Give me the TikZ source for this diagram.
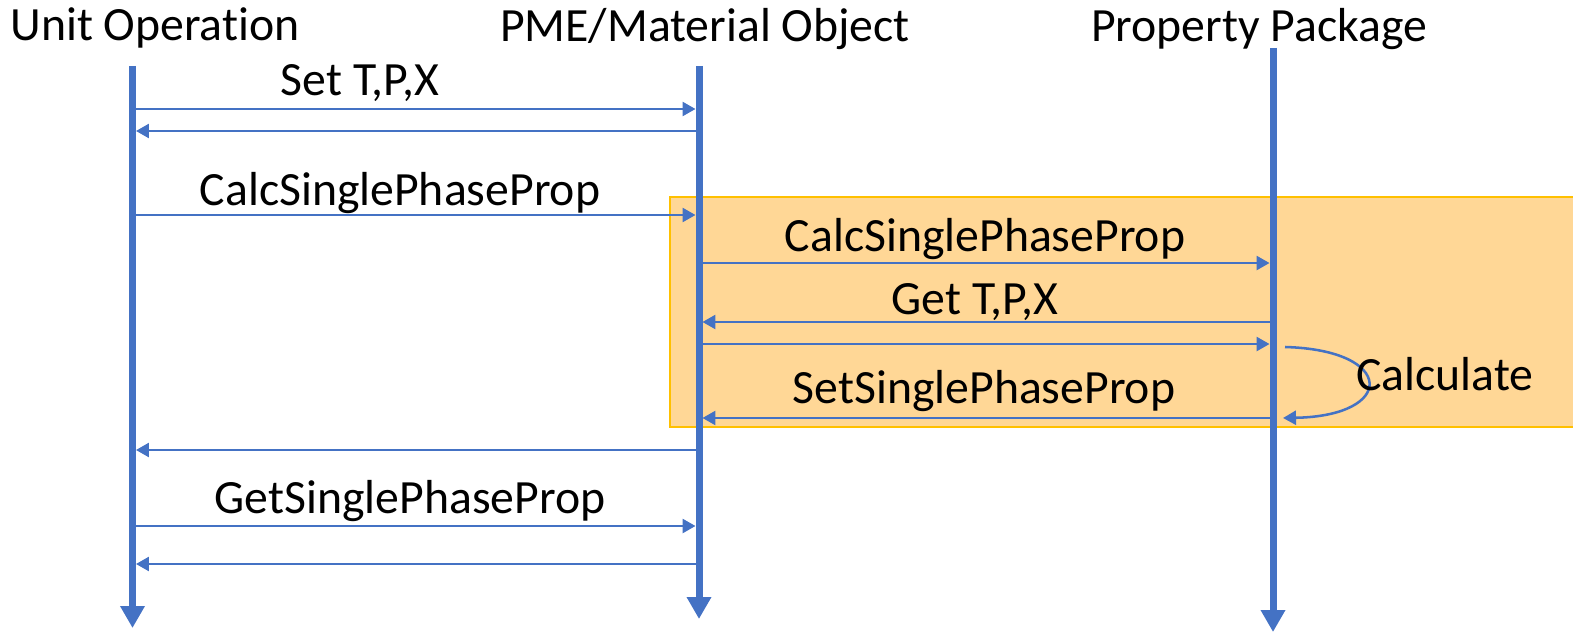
\documentclass[tikz,border=0pt]{standalone}
\usepackage{fontspec}
\setmainfont{Carlito}[Ligatures={NoCommon,NoContextual,NoRare}]
\usetikzlibrary{arrows.meta}
\definecolor{lifeblue}{HTML}{4472C4}
\definecolor{calcfill}{HTML}{FFD796}
\definecolor{calcedge}{HTML}{FFC000}
\begin{document}
\begin{tikzpicture}[x=.75pt,y=-.75pt,line width=1.9pt,
  every node/.style={font=\fontsize{35.8}{40}\selectfont,inner sep=0pt,anchor=base},
  lifeline/.style={draw=lifeblue,line width=5.25pt,-{Triangle[length=16.5pt,width=17.5pt]}},
  msg/.style={draw=lifeblue,-{Triangle[length=9.75pt,width=10.5pt]},shorten >=2.6pt}]
  \path[use as bounding box] (0,0) rectangle (1573,635);
  % shaded part handled by the property package
  \fill[calcfill,draw=calcedge,line width=.9pt] (670,197) rectangle (1580,427);
  \coordinate (uoT) at (132.5,66);
  \coordinate (uoB) at (132.5,628);
  \coordinate (pmeT) at (699,66);
  \coordinate (pmeB) at (699,619);
  \coordinate (ppT) at (1273,48);
  \coordinate (ppB) at (1273,632);
  \draw[lifeline] (uoT)--(uoB);
  \draw[lifeline] (pmeT)--(pmeB);
  \draw[lifeline] (ppT)--(ppB);
  \node (uo) at (155,41) {Unit Operat\kern0pt ion};
  \node (pme) at (705,42) {PME/Material Object};
  \node (pp) at (1259,42) {Property Package};
  % calls between the objects
  \draw[msg] (uoT|-0,109)--(pmeT|-0,109);
  \draw[msg] (pmeT|-0,131)--(uoT|-0,131);
  \draw[msg] (uoT|-0,215)--(pmeT|-0,215);
  \draw[msg] (pmeT|-0,263)--(ppT|-0,263);
  \draw[msg] (ppT|-0,322)--(pmeT|-0,322);
  \draw[msg] (pmeT|-0,344)--(ppT|-0,344);
  \draw[msg] (ppT|-0,418)--(pmeT|-0,418);
  \draw[msg] (pmeT|-0,450)--(uoT|-0,450);
  \draw[msg] (uoT|-0,526)--(pmeT|-0,526);
  \draw[msg] (pmeT|-0,564)--(uoT|-0,564);
  \coordinate (calcA) at (1285,347);
  \coordinate (calcB) at (1283,418);
  \draw[msg,shorten >=0pt] (calcA) .. controls (1396,350) and (1396,416) .. (calcB);
  \node (setTPX) at (360,95) {Set T,P,X};
  \node (calc1) at (400,205) {CalcSinglePhaseProp};
  \node (calc2) at (985,251) {CalcSinglePhaseProp};
  \node (getTPX) at (975,314) {Get T,P,X};
  \node (setSPP) at (984,403) {SetSinglePhaseProp};
  \node (getSPP) at (410,513) {GetSinglePhaseProp};
  \node (calc) at (1445,390) {Calculate};
\end{tikzpicture}
\end{document}
